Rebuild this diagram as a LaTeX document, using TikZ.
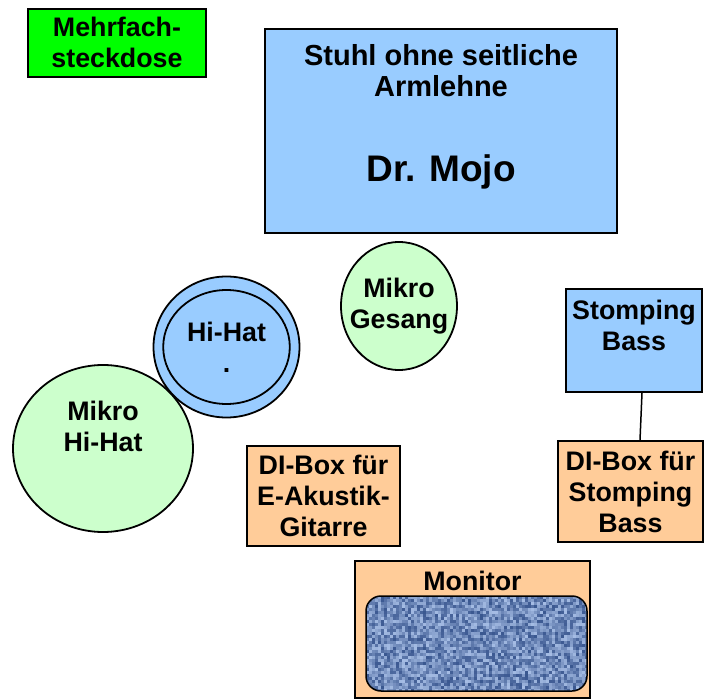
\documentclass[tikz,border=0pt]{standalone}
\usepackage{fontspec}
\setmainfont{Liberation Sans}
\usetikzlibrary{shapes.geometric, positioning}
\definecolor{steckgreen}{HTML}{00FF00}
\definecolor{chairblue}{HTML}{99CCFF}
\definecolor{mikrogreen}{HTML}{CCFFCC}
\definecolor{boxorange}{HTML}{FFCC99}
\definecolor{denimdark}{HTML}{2C4A85}
\definecolor{denimlight}{HTML}{BCD2F6}
\newcommand{\labelfont}{\fontsize{26.8}{31}\selectfont\bfseries}
\newcommand{\chairfont}{\fontsize{29}{31}\selectfont\bfseries}
\newcommand{\mojofont}{\fontsize{37}{42}\selectfont\bfseries}
\tikzstyle{block} = [
    rectangle,
    draw=black,
    line width=2pt,
    inner sep=0pt,
    align=center,
    font=\labelfont
]
\tikzstyle{steckdose} = [block, fill=steckgreen]
\tikzstyle{bluebox} = [block, fill=chairblue]
\tikzstyle{dibox} = [block, fill=boxorange]
\tikzstyle{mikro} = [
    ellipse,
    draw=black,
    line width=1.8pt,
    inner sep=0pt,
    align=center,
    font=\labelfont,
    fill=mikrogreen
]
\tikzstyle{hihatring} = [mikro, fill=chairblue]
\tikzstyle{plaintext} = [inner sep=0pt, align=center]
\tikzstyle{screen} = [
    rectangle,
    rounded corners=15pt,
    draw=black,
    line width=1.5pt
]
\tikzstyle{wire} = [line width=1.5pt]

\begin{document}
\begin{tikzpicture}[x=1pt, y=-1pt]
\useasboundingbox (0,0) rectangle (704,700);

\node (steck) [steckdose, minimum width=178, minimum height=68.5] at (117,42.8)
{Mehrfach-\\steckdose};

\node (stuhl) [bluebox, minimum width=352, minimum height=204] at (441,131) {};
\node (stuhltext) [plaintext, font=\chairfont] at (441,70.5)
{Stuhl ohne seitliche\\Armlehne};
\node (mojo) [plaintext, font=\mojofont] at (441,172) {Dr. Mojo};

\node (gesang) [mikro, inner xsep=-12pt, minimum width=116, minimum height=128]
    at (399,306)
{Mikro\\Gesang};

\node (mikrohihat) [mikro, minimum width=180, minimum height=167,
    text depth=44pt] at (103,448.5)
{Mikro\\Hi-Hat};

\node (hihat) [hihatring, minimum width=146, minimum height=141] at (226.5,347)
{Hi-Hat\\.};
\draw [line width=1.8pt] (hihat.center) ellipse [x radius=63.3, y radius=57];

\node (stomp) [bluebox, minimum width=136, minimum height=103,
    text depth=30pt] at (634,340.5)
{Stomping\\Bass};

\node (distomp) [dibox, minimum width=145, minimum height=101] at (630.5,491.5)
{DI-Box für\\Stomping\\Bass};

\node (diakustik) [dibox, minimum width=153, minimum height=100] at (323.5,496)
{DI-Box für\\E-Akustik-\\Gitarre};

\node (monitor) [dibox, minimum width=235, minimum height=137] at (472.5,629.5) {};
\node (monitortext) [plaintext, font=\labelfont] at (472.5,581) {Monitor};

% denim texture of the screen
\begin{scope}
    \clip [rounded corners=15pt] (366,596) rectangle (587,691);
    \pgfmathsetseed{4711}
    \foreach \i in {0,...,73} {
        \foreach \j in {0,...,31} {
            \pgfmathsetmacro\mix{int(10+75*rnd)}
            \fill [denimlight!\mix!denimdark]
                (366+3*\i, 596+3*\j) rectangle +(3,3);
        }
    }
\end{scope}
\node (screen) [screen, minimum width=221, minimum height=95] at (476.5,643.5) {};

\draw [wire] ([xshift=8pt]stomp.south) -- ([xshift=9.5pt]distomp.north);

\end{tikzpicture}
\end{document}
